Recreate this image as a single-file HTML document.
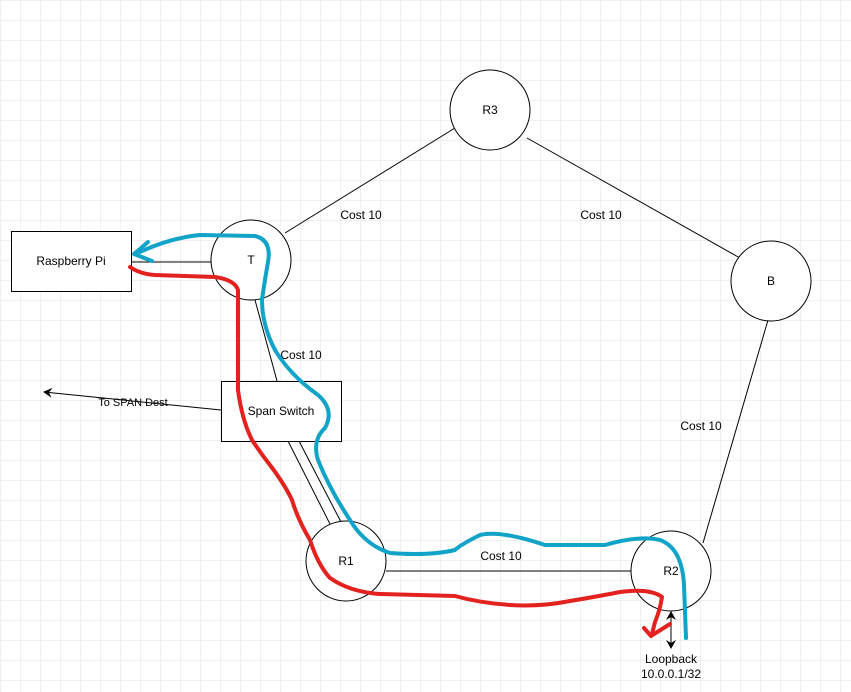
<!DOCTYPE html>
<html><head><style>
html,body{margin:0;padding:0;background:#fff;}
svg{display:block;}
text{font-family:"Liberation Sans",sans-serif;font-size:12px;fill:#000;}
</style></head><body>
<svg width="851" height="692" viewBox="0 0 851 692" xmlns="http://www.w3.org/2000/svg">
<defs>
<pattern id="g" width="20" height="20" patternUnits="userSpaceOnUse" x="1" y="1">
<path d="M20 0V20H0" fill="none" stroke="#e2e2e2" stroke-width="1"/>
</pattern>
<marker id="ah" markerWidth="10" markerHeight="10" refX="8" refY="5" orient="auto" markerUnits="userSpaceOnUse"><path d="M0,0 L9,5 L0,10 L3,5 z" fill="#000"/></marker>
</defs>
<rect width="851" height="692" fill="url(#g)"/>
<g stroke="#000" stroke-width="1" fill="none">
<line x1="285" y1="233" x2="455" y2="128"/>
<line x1="527" y1="138" x2="740" y2="258"/>
<line x1="768" y1="320" x2="703" y2="543"/>
<line x1="131" y1="262" x2="211" y2="262"/>
<line x1="255" y1="300" x2="277" y2="381"/>
<line x1="288" y1="441" x2="330" y2="524"/>
<line x1="299" y1="441" x2="341" y2="522"/>
<line x1="386" y1="571" x2="631" y2="571"/>
<line x1="221" y1="410" x2="44" y2="392" marker-end="url(#ah)"/>
<line x1="671" y1="620" x2="671" y2="612" marker-end="url(#ah)"/>
<line x1="671" y1="620" x2="671" y2="648" marker-end="url(#ah)"/>
</g>
<g stroke="#000" stroke-width="1" fill="#fff">
<circle cx="490" cy="110" r="40"/>
<circle cx="251" cy="260" r="40"/>
<circle cx="771" cy="281" r="40"/>
<circle cx="346" cy="561" r="40"/>
<circle cx="671" cy="571" r="40"/>
<rect x="11.5" y="231.5" width="120" height="60"/>
<rect x="221.5" y="381.5" width="120" height="60"/>
</g>
<g text-anchor="middle">
<text x="490" y="114">R3</text>
<text x="251" y="264">T</text>
<text x="771" y="285">B</text>
<text x="346" y="565">R1</text>
<text x="671" y="575">R2</text>
<text x="71" y="265">Raspberry Pi</text>
<text x="281" y="415">Span Switch</text>
<text x="361" y="219">Cost 10</text>
<text x="601" y="219">Cost 10</text>
<text x="301" y="359">Cost 10</text>
<text x="701" y="430">Cost 10</text>
<text x="501" y="560">Cost 10</text>
<text x="133" y="406" style="font-size:11px">To SPAN Dest</text>
<text x="671" y="663">Loopback</text>
<text x="671" y="678">10.0.0.1/32</text>
</g>
<path d="M686,638 L684,585 Q682,548 660,540 Q640,535 605,545 L545,545 Q500,530 480,535 Q460,545 455,550 Q430,556 390,553 Q365,545 350,520 Q330,490 318,460 Q312,440 325,428 Q335,410 318,395 Q290,375 275,350 Q262,325 262,300 Q264,285 268,262 Q272,240 255,236 L200,235 Q170,238 140,252" fill="none" stroke="#12a3c8" stroke-width="4" stroke-linecap="round" stroke-linejoin="round"/>
<path d="M148,242 L134,254 L152,261" fill="none" stroke="#12a3c8" stroke-width="4" stroke-linecap="round" stroke-linejoin="round"/>
<path d="M130,267 Q140,274 155,275 L215,277 Q235,280 238,290 L238,390 Q242,420 252,440 Q262,455 270,465 Q285,485 292,500 Q298,520 310,540 Q318,565 330,578 Q350,592 380,594 L455,596 Q480,603 510,605 Q540,607 570,601 Q600,596 620,592 Q650,588 662,597 Q660,610 655,622 L652,634" fill="none" stroke="#e3211e" stroke-width="4" stroke-linecap="round" stroke-linejoin="round"/>
<path d="M644,628 L651,636 L670,624" fill="none" stroke="#e3211e" stroke-width="4" stroke-linecap="round" stroke-linejoin="round"/>
</svg>
</body></html>
